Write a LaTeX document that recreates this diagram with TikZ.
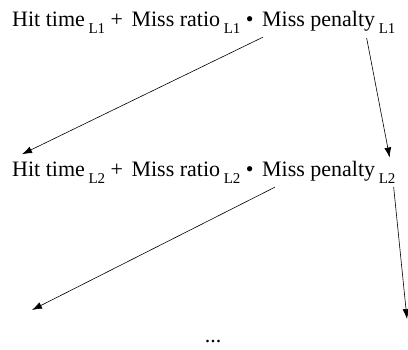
\documentclass[tikz,border=0pt]{standalone}
\usepackage{fontspec}
\setmainfont{Liberation Serif}
\usetikzlibrary{positioning,arrows.meta,calc}

\newcommand{\lvl}[1]{\,\raisebox{-7pt}{\fontsize{15}{15}\selectfont #1}}

\begin{document}
\begin{tikzpicture}[
  x=1pt, y=1pt,
  font=\fontsize{22}{26}\selectfont,
  line/.style={-{Latex[length=10pt,width=7pt]}, semithick, draw=black},
  term/.style={inner sep=0pt, anchor=base west}
]
\useasboundingbox (0,0) rectangle (408,350);

% ========== Row 1: L1 ==========
\node[term] (hit1) at (12,323) {Hit time\lvl{L1} +};
\node[term, right=8pt of hit1.base east, anchor=base west] (ratio1) {Miss ratio\lvl{L1} \textbullet};
\node[term, right=8pt of ratio1.base east, anchor=base west] (pen1) {Miss penalty\lvl{L1}};

% ========== Row 2: L2 ==========
\node[term] (hit2) at (12,173) {Hit time\lvl{L2} +};
\node[term, right=8pt of hit2.base east, anchor=base west] (ratio2) {Miss ratio\lvl{L2} \textbullet};
\node[term, right=8pt of ratio2.base east, anchor=base west] (pen2) {Miss penalty\lvl{L2}};

% ========== Row 3: dots ==========
\coordinate (left3) at (32,40);
\coordinate (right3) at (407,31);
\node[inner sep=0pt] (dots) at (213,8) {...};

% ===== Arrows =====
\draw[line] ($(pen1.south west)+(1,-3)$) -- ($(hit2.north west)+(10,8)$);
\draw[line] ($(pen1.south east)+(-29,-4)$) -- ($(pen2.north east)+(-6,4)$);
\draw[line] ($(pen2.south west)+(13,-3)$) -- (left3);
\draw[line] ($(pen2.south east)+(-2,-3)$) -- (right3);

\end{tikzpicture}
\end{document}
